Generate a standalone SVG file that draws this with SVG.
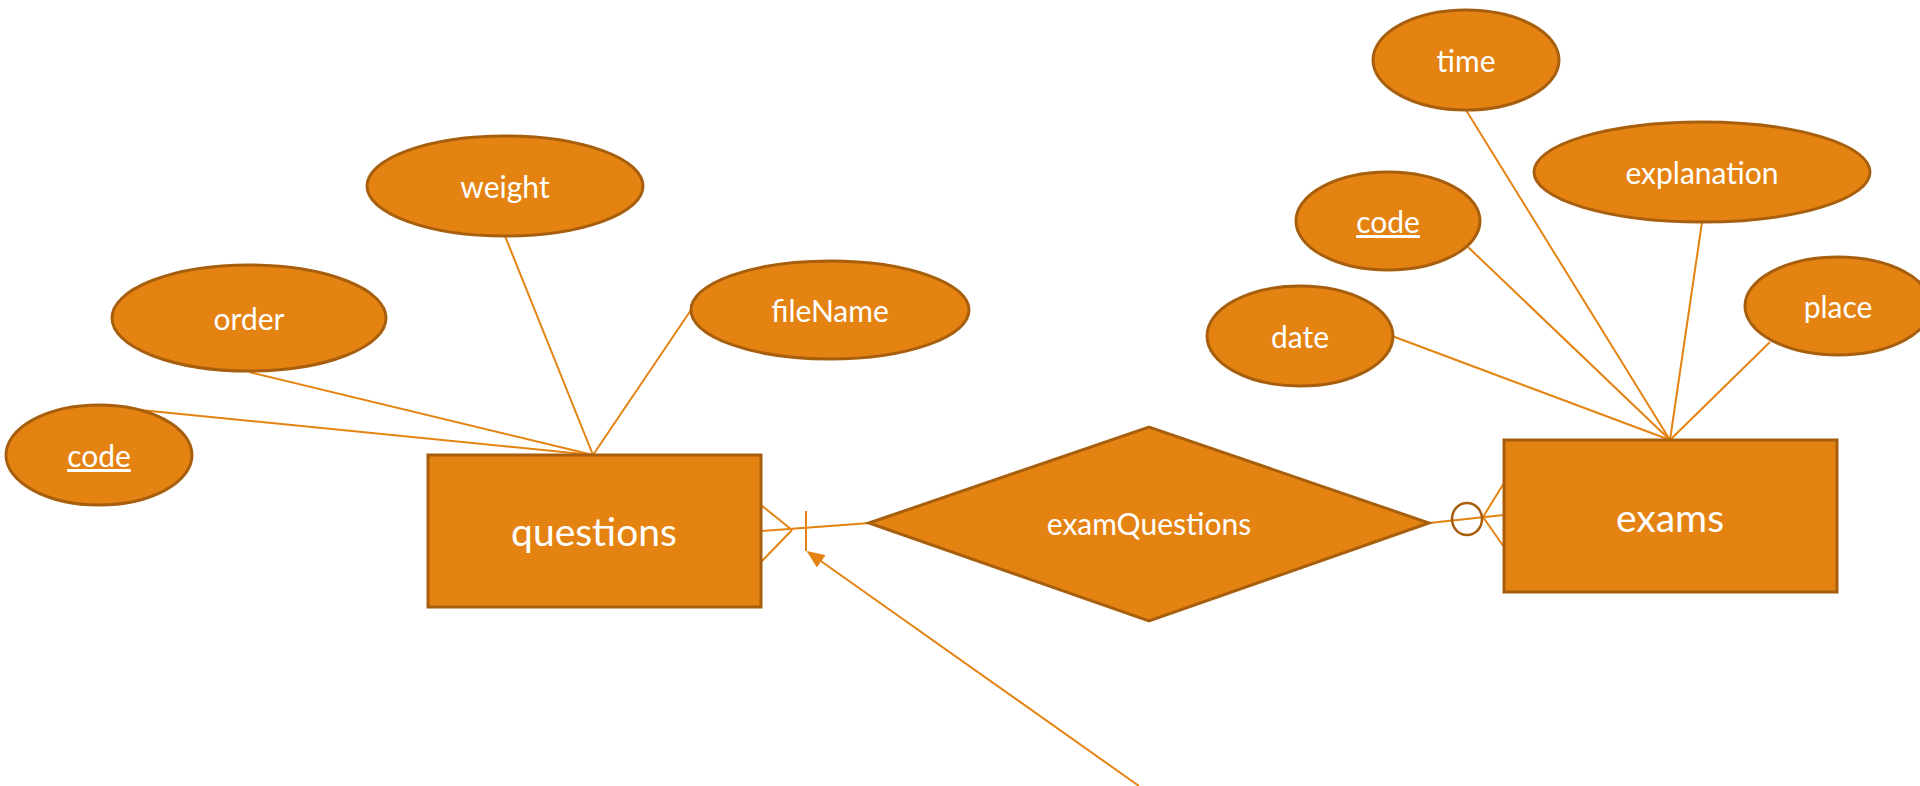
<svg xmlns="http://www.w3.org/2000/svg" width="1920" height="786" viewBox="0 0 1920 786">
  <defs>
    <style>
      .shape { fill: #E48312; stroke: #A85F0D; stroke-width: 3; }
      .link { stroke: #E48312; stroke-width: 2; fill: none; }
      .optional { fill: none; stroke: #A85F0D; stroke-width: 2.5; }
      .lbl { fill: #FFFFFF; font-family: "Lato", "Open Sans", sans-serif; font-size: 30px; text-anchor: middle; }
      .big { font-size: 39px; }
      .key { text-decoration: underline; }
    </style>
    <marker id="arrow" viewBox="0 0 10 10" refX="9" refY="5" markerWidth="18" markerHeight="15" markerUnits="userSpaceOnUse" orient="auto" preserveAspectRatio="none">
      <path d="M0,0 L10,5 L0,10 Z" fill="#E48312"/>
    </marker>
  </defs>

  <rect width="1920" height="786" fill="#FFFFFF"/>

  <!-- connectors -->
  <g id="connectors">
    <!-- questions attributes -->
    <line class="link" x1="100" y1="406" x2="593" y2="455"/>
    <line class="link" x1="249" y1="372" x2="593" y2="455"/>
    <line class="link" x1="505" y1="236" x2="593" y2="455"/>
    <line class="link" x1="691" y1="310" x2="593" y2="455"/>
    <!-- exams attributes -->
    <line class="link" x1="1392" y1="336" x2="1670" y2="440"/>
    <line class="link" x1="1468" y1="247" x2="1670" y2="440"/>
    <line class="link" x1="1466" y1="110" x2="1670" y2="440"/>
    <line class="link" x1="1702" y1="222" x2="1670" y2="440"/>
    <line class="link" x1="1770" y1="342" x2="1670" y2="440"/>
    <!-- questions side of examQuestions: one and many -->
    <line class="link" x1="761" y1="531" x2="870" y2="523"/>
    <line class="link" x1="761" y1="505" x2="792" y2="530"/>
    <line class="link" x1="761" y1="562" x2="792" y2="530"/>
    <line class="link" x1="806" y1="511" x2="806" y2="551"/>
    <!-- exams side of examQuestions: zero or many -->
    <line class="link" x1="1429" y1="523" x2="1504" y2="515"/>
    <line class="link" x1="1504" y1="483" x2="1483" y2="517"/>
    <line class="link" x1="1504" y1="547" x2="1483" y2="517"/>
    <ellipse class="optional" cx="1467" cy="519" rx="15" ry="16"/>
    <!-- incoming arrow -->
    <line class="link" x1="1139" y1="786" x2="808" y2="552" marker-end="url(#arrow)"/>
  </g>

  <!-- entities -->
  <g id="questions">
    <rect class="shape" x="428" y="455" width="333" height="152"/>
    <text class="lbl big" x="594" y="546">questions</text>
  </g>
  <g id="exams">
    <rect class="shape" x="1504" y="440" width="333" height="152"/>
    <text class="lbl big" x="1670" y="532">exams</text>
  </g>

  <!-- relationship -->
  <g id="examQuestions">
    <polygon class="shape" points="869,523 1149,427 1429,523 1149,621"/>
    <text class="lbl" x="1149" y="535">examQuestions</text>
  </g>

  <!-- questions attributes -->
  <g id="q-code">
    <ellipse class="shape" cx="99" cy="455" rx="93" ry="50"/>
    <text class="lbl key" x="99" y="467">code</text>
  </g>
  <g id="q-order">
    <ellipse class="shape" cx="249" cy="318" rx="137" ry="53"/>
    <text class="lbl" x="249" y="330">order</text>
  </g>
  <g id="q-weight">
    <ellipse class="shape" cx="505" cy="186" rx="138" ry="50"/>
    <text class="lbl" x="505" y="198">weight</text>
  </g>
  <g id="q-fileName">
    <ellipse class="shape" cx="830" cy="310" rx="139" ry="49"/>
    <text class="lbl" x="830" y="322">fileName</text>
  </g>

  <!-- exams attributes -->
  <g id="e-time">
    <ellipse class="shape" cx="1466" cy="60" rx="93" ry="50"/>
    <text class="lbl" x="1466" y="72">time</text>
  </g>
  <g id="e-explanation">
    <ellipse class="shape" cx="1702" cy="172" rx="168" ry="50"/>
    <text class="lbl" x="1702" y="184">explanation</text>
  </g>
  <g id="e-code">
    <ellipse class="shape" cx="1388" cy="221" rx="92" ry="49"/>
    <text class="lbl key" x="1388" y="233">code</text>
  </g>
  <g id="e-date">
    <ellipse class="shape" cx="1300" cy="336" rx="93" ry="50"/>
    <text class="lbl" x="1300" y="348">date</text>
  </g>
  <g id="e-place">
    <ellipse class="shape" cx="1838" cy="306" rx="93" ry="49"/>
    <text class="lbl" x="1838" y="318">place</text>
  </g>
</svg>
